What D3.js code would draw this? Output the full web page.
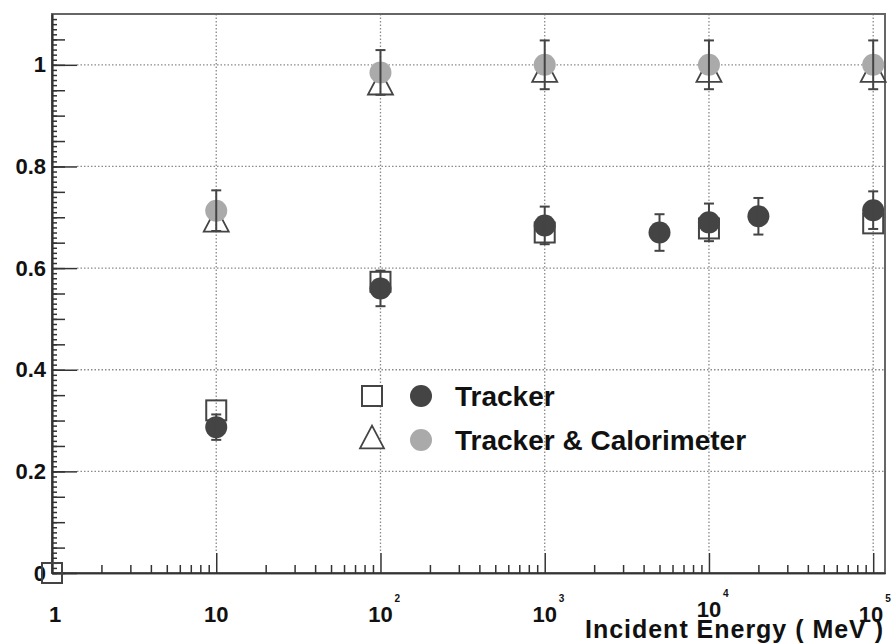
<!DOCTYPE html>
<meta charset="utf-8">
<style>
    body {
        margin: 0;
        background: white;
        font-family: "Liberation Sans", Arial, sans-serif;
    }

    .axis path,
    .axis line {
        stroke: #333;
        stroke-width: 1.5px;
    }

    .grid line {
        stroke: #8a8a8a;
        stroke-width: 1.3px;
        stroke-dasharray: 1.5, 2;
    }

    .lbl {
        font-weight: bold;
        fill: #111;
    }
</style>

<body>
    <svg id="chart" width="895" height="644"></svg>

    <script src="https://cdnjs.cloudflare.com/ajax/libs/d3/7.8.5/d3.min.js"></script>

    <script>
        // Tracker only (open squares + dark circles)
        var trkSqE = [1, 10, 100, 1000, 10000, 100000];
        var trkSqV = [0, 0.32, 0.573, 0.67, 0.678, 0.688];

        var trkE = [10, 100, 1000, 5000, 10000, 20000, 100000];
        var trkV = [0.287, 0.56, 0.684, 0.67, 0.69, 0.702, 0.714];
        var trkErr = [0.025, 0.035, 0.037, 0.036, 0.037, 0.036, 0.037];

        // Tracker & Calorimeter (open triangles + light circles)
        var calE = [10, 100, 1000, 10000, 100000];
        var calTriV = [0.695, 0.965, 0.99, 0.99, 0.99];
        var calV = [0.713, 0.985, 1.0, 1.0, 1.0];
        var calErr = [0.04, 0.044, 0.048, 0.048, 0.048];

        var yTicks = [0, 0.2, 0.4, 0.6, 0.8, 1];
        var yLabels = ["0", "0.2", "0.4", "0.6", "0.8", "1"];
        var xTicks = [1, 10, 100, 1000, 10000, 100000];
        var xExp = ["", "", "2", "3", "4", "5"];
        var xBase = ["1", "10", "10", "10", "10", "10"];

        var svg = d3.select("#chart");
        var pLeft = 52, pRight = 885, pTop = 14, pBottom = 573;

        var x = d3.scaleLog().domain([1, 118000]).range([pLeft, pRight]);
        var y = d3.scaleLinear().domain([0, 1.1]).range([pBottom, pTop]);

        // grid
        var grid = svg.append("g").attr("class", "grid");
        grid.selectAll(".gh")
            .data(yTicks.filter(function (d) { return d > 0; }))
            .enter().append("line")
            .attr("x1", pLeft + 25).attr("x2", pRight)
            .attr("y1", function (d) { return y(d); })
            .attr("y2", function (d) { return y(d); });
        grid.selectAll(".gv")
            .data(xTicks.slice(1))
            .enter().append("line")
            .attr("x1", function (d) { return x(d); })
            .attr("x2", function (d) { return x(d); })
            .attr("y1", pTop).attr("y2", pBottom - 20);

        // frame
        svg.append("rect")
            .attr("x", pLeft).attr("y", pTop)
            .attr("width", pRight - pLeft).attr("height", pBottom - pTop)
            .attr("fill", "none")
            .attr("stroke", "#666")
            .attr("stroke-width", 2);

        // y axis: major, medium, tiny ticks pointing inwards
        var tiny = d3.range(0, 110).map(function (i) { return i / 100; });
        var mid = d3.range(0, 22).map(function (i) { return i * 0.05; });

        svg.append("g").attr("class", "axis")
            .attr("transform", "translate(" + pLeft + ",0)")
            .call(d3.axisLeft(y).tickValues(tiny).tickSize(-5).tickSizeOuter(0).tickFormat(""));
        svg.append("g").attr("class", "axis")
            .attr("transform", "translate(" + pLeft + ",0)")
            .call(d3.axisLeft(y).tickValues(mid).tickSize(-13).tickSizeOuter(0).tickFormat(""));
        var yAx = svg.append("g").attr("class", "axis")
            .attr("transform", "translate(" + pLeft + ",0)")
            .call(d3.axisLeft(y).tickValues(yTicks).tickSize(-25).tickSizeOuter(0).tickPadding(6)
                .tickFormat(function (d, i) { return yLabels[i]; }));
        yAx.selectAll("text")
            .attr("class", "lbl")
            .style("font-size", "22px")
            .style("font-family", "'Liberation Sans', Arial, sans-serif");

        // x axis
        var minors = [];
        xTicks.slice(0, 5).forEach(function (d) {
            for (var k = 2; k <= 9; k++) minors.push(d * k);
        });
        svg.append("g").attr("class", "axis")
            .attr("transform", "translate(0," + pBottom + ")")
            .call(d3.axisBottom(x).tickValues(minors).tickSize(-8).tickSizeOuter(0).tickFormat(""));
        svg.append("g").attr("class", "axis")
            .attr("transform", "translate(0," + pBottom + ")")
            .call(d3.axisBottom(x).tickValues(xTicks).tickSize(-20).tickSizeOuter(0).tickFormat(""));

        var xl = svg.append("g");
        xTicks.forEach(function (d, i) {
            var base = i == 4 ? 617 : 622;
            var t = xl.append("text")
                .attr("class", "lbl")
                .attr("x", x(d) + (i == 0 ? 3 : 0))
                .attr("y", base)
                .attr("text-anchor", i == 5 ? "end" : "middle")
                .style("font-size", "22px")
                .text(xBase[i]);
            if (i == 5) t.attr("x", x(d) + 10);
            if (xExp[i]) {
                xl.append("text")
                    .attr("class", "lbl")
                    .attr("x", (i == 5 ? x(d) + 12 : x(d) + 14))
                    .attr("y", base - 20)
                    .style("font-size", "10px")
                    .text(xExp[i]);
            }
        });

        svg.append("text")
            .attr("class", "lbl")
            .attr("x", 585)
            .attr("y", 638)
            .attr("textLength", 298)
            .style("font-size", "25px")
            .text("Incident Energy  ( MeV )");

        // markers
        var marks = svg.append("g");

        function tri(cx, cy, s) {
            var h = s * 0.95;
            return "M" + cx + "," + (cy - h / 2) + "L" + (cx + s / 2) + "," + (cy + h / 2) +
                "L" + (cx - s / 2) + "," + (cy + h / 2) + "Z";
        }

        marks.selectAll(".sq")
            .data(trkSqE)
            .enter().append("rect")
            .attr("x", function (d) { return x(d) - 10; })
            .attr("y", function (d, i) { return y(trkSqV[i]) - 10; })
            .attr("width", 20).attr("height", 20)
            .attr("fill", "none")
            .attr("stroke", "#444")
            .attr("stroke-width", 2);

        marks.selectAll(".tri")
            .data(calE)
            .enter().append("path")
            .attr("d", function (d, i) { return tri(x(d), y(calTriV[i]), 25); })
            .attr("fill", "none")
            .attr("stroke", "#444")
            .attr("stroke-width", 1.8);

        marks.selectAll(".dk")
            .data(trkE)
            .enter().append("circle")
            .attr("cx", function (d) { return x(d); })
            .attr("cy", function (d, i) { return y(trkV[i]); })
            .attr("r", 11)
            .attr("fill", "#444");

        marks.selectAll(".lt")
            .data(calE)
            .enter().append("circle")
            .attr("cx", function (d) { return x(d); })
            .attr("cy", function (d, i) { return y(calV[i]); })
            .attr("r", 11)
            .attr("fill", "#aaa");

        // error bars
        function errBars(E, V, Err) {
            var g = marks.append("g")
                .attr("stroke", "#444")
                .attr("stroke-width", 2);
            E.forEach(function (d, i) {
                var cx = x(d), y0 = y(V[i] - Err[i]), y1 = y(V[i] + Err[i]);
                g.append("line").attr("x1", cx).attr("x2", cx).attr("y1", y0).attr("y2", y1);
                g.append("line").attr("x1", cx - 5).attr("x2", cx + 5).attr("y1", y0).attr("y2", y0);
                g.append("line").attr("x1", cx - 5).attr("x2", cx + 5).attr("y1", y1).attr("y2", y1);
            });
        }
        errBars(trkE, trkV, trkErr);
        errBars(calE, calV, calErr);

        // legend
        var leg = svg.append("g");
        leg.append("rect")
            .attr("x", 362).attr("y", 386).attr("width", 20).attr("height", 20)
            .attr("fill", "white").attr("stroke", "#444").attr("stroke-width", 2);
        leg.append("circle").attr("cx", 421).attr("cy", 396).attr("r", 11).attr("fill", "#444");
        leg.append("path").attr("d", tri(372, 437, 24))
            .attr("fill", "white").attr("stroke", "#444").attr("stroke-width", 1.8);
        leg.append("circle").attr("cx", 421).attr("cy", 440).attr("r", 11).attr("fill", "#aaa");
        leg.append("text").attr("class", "lbl")
            .attr("x", 455).attr("y", 406)
            .style("font-size", "28px")
            .text("Tracker");
        leg.append("text").attr("class", "lbl")
            .attr("x", 455).attr("y", 450)
            .style("font-size", "28px")
            .text("Tracker & Calorimeter");
    </script>
</body>
